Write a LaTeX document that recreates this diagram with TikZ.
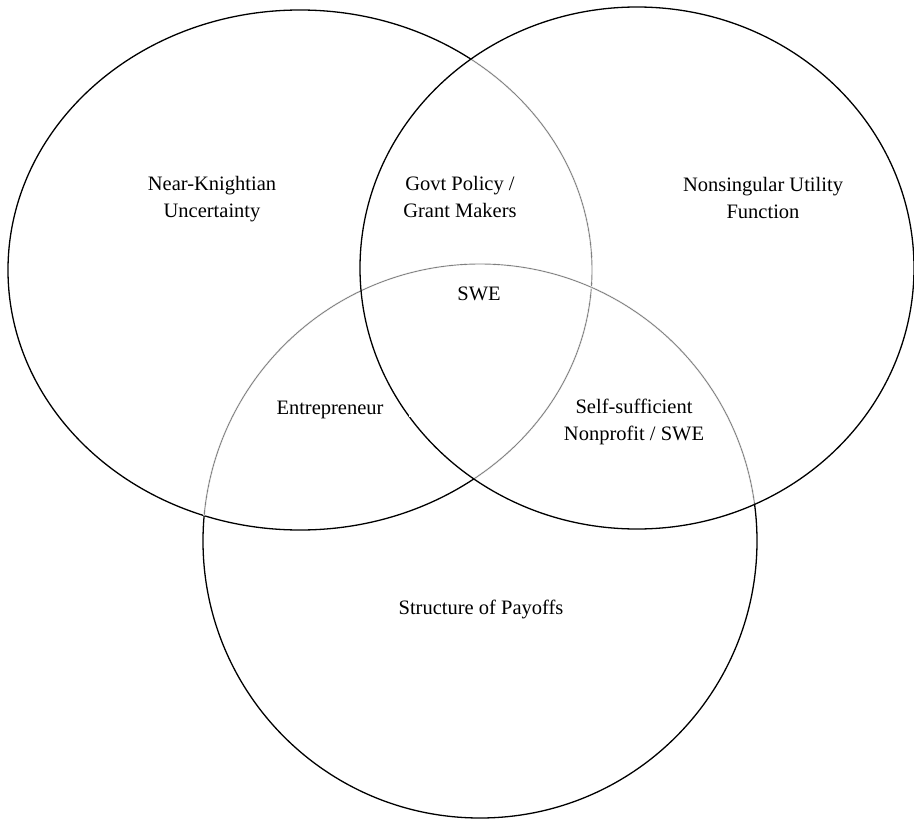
\documentclass[tikz,border=0pt]{standalone}
\usepackage{fontspec}
\setmainfont{Liberation Serif}
\begin{document}
\begin{tikzpicture}[x=1pt,y=-1pt,
  outline/.style={draw=black,line width=1.3pt},
  inner/.style={draw=black!50,line width=0.9pt},
  erase/.style={draw=white,line width=2.2pt},
  label/.style={inner sep=0pt,align=center,font=\fontsize{20.5}{27}\selectfont}]
\useasboundingbox (0,0) rectangle (914,819);

% the three sets
\def\leftset{(300,270) ellipse [x radius=292,y radius=260]}
\def\rightset{(637,268) ellipse [x radius=277,y radius=261]}
\def\lowerset{(480,541) circle [radius=277]}

\path[outline] \leftset;
\path[outline] \lowerset;

% arcs lying inside another set are drawn lighter
\begin{scope}
  \clip \rightset;
  \path[erase] \leftset;
  \path[inner] \leftset;
  \path[erase] \lowerset;
  \path[inner] \lowerset;
\end{scope}
\begin{scope}
  \clip \leftset;
  \path[erase] \lowerset;
  \path[inner] \lowerset;
\end{scope}

\path[outline] \rightset;

% small breaks in the outlines
\fill[white] (409,410) rectangle (415,417);
\fill[white] (527,416) rectangle (533,423);

% region labels
\node[label] (nk)  at (212,199) {Near-Knightian\\Uncertainty};
\node[label] (gp)  at (460,197) {Govt Policy /\\Grant Makers};
\node[label] (nu)  at (763,198) {Nonsingular Utility\\Function};
\node[label] (swe) at (479,294) {SWE};
\node[label] (ent) at (330,410) {Entrepreneur};
\node[label] (ssn) at (634,422) {Self-sufficient\\Nonprofit / SWE};
\node[label] (sp)  at (481,609) {Structure of Payoffs};
\end{tikzpicture}
\end{document}
